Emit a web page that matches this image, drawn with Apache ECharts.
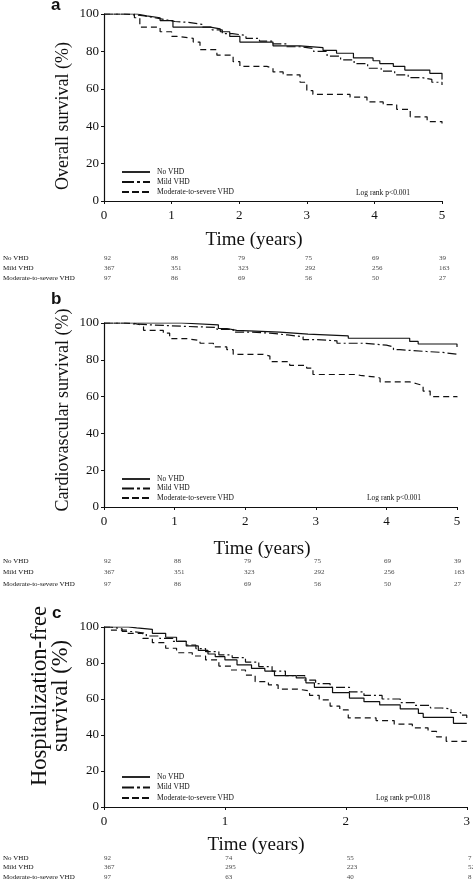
<!DOCTYPE html>
<html><head><meta charset="utf-8">
<script src="https://cdn.jsdelivr.net/npm/echarts@6/dist/echarts.min.js"></script>
<style>html,body{margin:0;padding:0;background:#fff}#c{width:473px;height:888px}</style>
</head><body><div id="c"></div>
<script>
// ---------- DATA ----------
const groups = ['No VHD', 'Mild VHD', 'Moderate-to-severe VHD'];

// Panel a: overall survival (time in years, survival %)
const a_noVHD = [[0,100],[0.49,99],[0.63,98],[0.83,96.5],[1.02,93],[1.57,92],[1.72,90.5],[1.86,88],[2.01,85],[2.5,83],[2.9,82],[3.24,80.5],[3.44,79],[3.69,76.5],[3.98,75],[4.08,73.5],[4.28,72],[4.45,70],[4.82,68.3],[5,65]];
const a_mildVHD = [[0,100],[0.3,99.5],[0.45,99],[0.6,98],[0.75,97],[0.9,96],[1.05,95.5],[1.25,94.5],[1.45,93],[1.6,91.5],[1.75,89.5],[1.9,88.5],[2.1,87],[2.3,85.5],[2.5,84],[2.7,82.5],[2.9,81.5],[3.1,80],[3.3,77.5],[3.5,75.5],[3.7,73.5],[3.9,71],[4.1,69.5],[4.3,67.5],[4.5,66],[4.7,65],[4.85,63.5],[5,62]];
const a_modVHD = [[0,100],[0.45,98],[0.53,93],[0.83,90.5],[1.0,88],[1.08,87],[1.32,85],[1.42,81],[1.67,78],[1.91,74.5],[2.01,72],[2.41,71],[2.5,69],[2.65,67.5],[2.9,63.5],[3.0,59],[3.09,57],[3.64,55.5],[3.89,53],[4.13,51.5],[4.33,49],[4.53,45],[4.78,42.5],[5,41.5]];

// Panel b: cardiovascular survival
const b_noVHD = [[0,100],[1.1,99],[1.62,97],[1.74,96],[1.88,95],[2.49,94],[2.89,93],[3.46,91.7],[4.33,90],[4.45,88.6],[5,87]];
const b_mildVHD = [[0,100],[0.3,99.5],[0.42,99],[0.65,98.2],[1.12,97.6],[1.6,96.5],[1.83,95],[2.1,94.5],[2.35,93.5],[2.6,92.5],[2.82,91],[3.0,90.3],[3.3,89],[3.67,88],[4.0,87],[4.1,85.5],[4.19,84.5],[4.57,84],[4.8,83],[5,82]];
const b_modVHD = [[0,100],[0.4,99],[0.51,98],[0.56,96],[0.84,94.5],[0.93,91.5],[1.17,90.5],[1.36,89],[1.55,87],[1.74,85.5],[1.83,83],[2.25,82],[2.35,79],[2.63,77],[2.87,75.5],[2.96,72],[3.58,71.5],[3.63,70.5],[3.88,70],[3.91,68],[4.33,67],[4.43,66],[4.52,63],[4.62,60],[5,59.6]];

// Panel c: hospitalization-free survival
const c_noVHD = [[0,100],[0.2,99.5],[0.27,98.7],[0.4,96.5],[0.51,94.3],[0.6,92],[0.68,89.5],[0.78,87],[0.86,85],[0.92,83.5],[1.0,81.7],[1.1,79],[1.22,77],[1.33,75.5],[1.41,73],[1.59,71.7],[1.67,69],[1.74,66.5],[1.89,63.5],[2.03,60.5],[2.15,58.5],[2.28,56.7],[2.45,54.5],[2.6,52],[2.64,49.8],[2.89,46.5],[3,46.5]];
const c_mildVHD = [[0,100],[0.05,99],[0.15,97.5],[0.24,96.5],[0.35,95],[0.46,93.7],[0.57,92],[0.68,90],[0.76,88],[0.84,86.3],[0.95,84.5],[1.06,83],[1.17,80.5],[1.28,78],[1.39,75.5],[1.5,73],[1.66,70.5],[1.75,68.5],[1.87,66.5],[2.03,64],[2.15,62],[2.3,60],[2.45,58],[2.57,56.5],[2.7,55],[2.79,54.5],[2.87,52.5],[2.95,51],[3,49.5]];
const c_modVHD = [[0,100],[0.05,98.3],[0.19,96.5],[0.32,93.7],[0.4,91.3],[0.51,88.2],[0.6,85.7],[0.73,83.9],[0.84,81.7],[0.95,78.3],[1.05,76.1],[1.17,73.3],[1.25,69.6],[1.36,67.8],[1.44,65.5],[1.6,64.5],[1.7,62],[1.78,59.5],[1.87,56],[1.95,54],[2.02,49.5],[2.25,48],[2.4,46],[2.55,44],[2.68,42],[2.75,39],[2.83,36.5],[3,36.5]];

// Numbers at risk
const riskTimes5 = [0, 1, 2, 3, 4, 5];
const riskTimes3 = [0, 1, 2, 3];
const riskA_no = [92, 88, 79, 75, 69, 39];
const riskA_mild = [367, 351, 323, 292, 256, 163];
const riskA_mod = [97, 86, 69, 56, 50, 27];
const riskB_no = [92, 88, 79, 75, 69, 39];
const riskB_mild = [367, 351, 323, 292, 256, 163];
const riskB_mod = [97, 86, 69, 56, 50, 27];
const riskC_no = [92, 74, 55, 7];
const riskC_mild = [367, 295, 223, 52];
const riskC_mod = [97, 63, 40, 8];

const panelLetters = ['a', 'b', 'c'];
const yTitles = ['Overall survival (%)', 'Cardiovascular survival (%)', ['Hospitalization-free', 'survival (%)']];
const xTitle = 'Time (years)';
const logRankTexts = ['Log rank p<0.001', 'Log rank p<0.001', 'Log rank p=0.018'];

// ---------- LAYOUT / STYLE ----------
const SERIF = 'Liberation Serif';
const INK = '#111';
const lineTypes = ['solid', [9, 3, 2, 3], [6, 4]];
const legendDash = [null, [12, 3, 3, 3], [7, 3]];

const panels = [
  { curves: [a_noVHD, a_mildVHD, a_modVHD], xmax: 5, riskT: riskTimes5, risk: [riskA_no, riskA_mild, riskA_mod],
    grid: { left: 104, top: 14, width: 338, height: 187 }, table: { top: 253, height: 30 },
    legendRows: [172, 182, 192], letter: [51, 11], yTitle: [63, 116], yFont: 18, xTitlePos: [254, 240], logRank: [356, 193] },
  { curves: [b_noVHD, b_mildVHD, b_modVHD], xmax: 5, riskT: riskTimes5, risk: [riskB_no, riskB_mild, riskB_mod],
    grid: { left: 104, top: 323, width: 353, height: 184 }, table: { top: 555, height: 35 },
    legendRows: [479, 488.5, 498], letter: [51, 305], yTitle: [63, 410], yFont: 18, xTitlePos: [262, 549], logRank: [367, 498] },
  { curves: [c_noVHD, c_mildVHD, c_modVHD], xmax: 3, riskT: riskTimes3, risk: [riskC_no, riskC_mild, riskC_mod],
    grid: { left: 104, top: 627, width: 367, height: 180 }, table: { top: 853, height: 29 },
    legendRows: [777, 787.5, 798], letter: [52, 619], yTitle: [50, 696], yFont: 22.5, xTitlePos: [256, 845], logRank: [376, 798] }
];

const option = { animation: false, backgroundColor: '#fff', grid: [], xAxis: [], yAxis: [], series: [], graphic: [] };

panels.forEach((p, i) => {
  const gPlot = i * 2, gTab = i * 2 + 1;
  option.grid.push(Object.assign({ containLabel: false }, p.grid));
  option.grid.push({ left: p.grid.left, width: p.grid.width, top: p.table.top, height: p.table.height, containLabel: false });

  option.xAxis.push({
    gridIndex: gPlot, type: 'value', min: 0, max: p.xmax, interval: 1,
    axisLine: { show: true, lineStyle: { color: INK, width: 1.2 } },
    axisTick: { show: true, length: 3, lineStyle: { color: INK } },
    splitLine: { show: false },
    axisLabel: { color: INK, fontFamily: SERIF, fontSize: 13, margin: 8 }
  });
  option.yAxis.push({
    gridIndex: gPlot, type: 'value', min: 0, max: 100, interval: 20,
    axisLine: { show: true, lineStyle: { color: INK, width: 1.2 } },
    axisTick: { show: true, length: 3, lineStyle: { color: INK } },
    splitLine: { show: false },
    axisLabel: { color: INK, fontFamily: SERIF, fontSize: 13, margin: 5 }
  });
  option.xAxis.push({ gridIndex: gTab, type: 'value', min: 0, max: p.xmax, show: false });
  option.yAxis.push({
    gridIndex: gTab, type: 'category', data: groups, inverse: true,
    axisLine: { show: false }, axisTick: { show: false }, splitLine: { show: false },
    axisLabel: { show: true, color: INK, fontFamily: SERIF, fontSize: 7, align: 'left', margin: p.grid.left }
  });

  p.curves.forEach((d, k) => {
    option.series.push({
      name: groups[k], type: 'line', xAxisIndex: gPlot, yAxisIndex: gPlot,
      data: d, step: 'end', symbol: 'none', silent: true,
      lineStyle: { color: INK, width: 1.2, type: lineTypes[k] }, itemStyle: { color: INK }
    });
  });

  p.risk.forEach((vals, k) => {
    option.series.push({
      name: 'risk' + i + '_' + k, type: 'scatter', xAxisIndex: gTab, yAxisIndex: gTab,
      data: vals.map((v, j) => [p.riskT[j], k, v]),
      symbolSize: 1, itemStyle: { color: 'rgba(0,0,0,0)' }, silent: true,
      label: { show: true, position: 'inside', align: 'left', offset: [-3, 0], color: INK, fontFamily: SERIF, fontSize: 7,
        formatter: prm => String(prm.value[2]) }
    });
  });

  // legend (drawn as graphic keys)
  groups.forEach((g, k) => {
    const y = p.legendRows[k];
    option.graphic.push({ type: 'line', silent: true, shape: { x1: 122, y1: y, x2: 150, y2: y },
      style: { stroke: INK, lineWidth: 1.8, lineDash: legendDash[k] } });
    option.graphic.push({ type: 'text', x: 157, y: y, silent: true,
      style: { text: g, fontFamily: SERIF, fontSize: 7.5, fill: INK, align: 'left', verticalAlign: 'middle' } });
  });

  option.graphic.push({ type: 'text', left: p.letter[0], top: p.letter[1] - 14, silent: true,
    style: { text: panelLetters[i], font: 'bold 17px "Liberation Sans"', fill: INK } });

  const yt = yTitles[i];
  if (Array.isArray(yt)) {
    yt.forEach((line, j) => {
      option.graphic.push({ type: 'text', x: p.yTitle[0] - 10 + j * 21, y: p.yTitle[1], rotation: Math.PI / 2, silent: true,
        style: { text: line, fontFamily: SERIF, fontSize: p.yFont, fill: INK, align: 'center', verticalAlign: 'middle' } });
    });
  } else {
    option.graphic.push({ type: 'text', x: p.yTitle[0], y: p.yTitle[1], rotation: Math.PI / 2, silent: true,
      style: { text: yt, fontFamily: SERIF, fontSize: p.yFont, fill: INK, align: 'center', verticalAlign: 'middle' } });
  }
  option.graphic.push({ type: 'text', x: p.xTitlePos[0], y: p.xTitlePos[1], silent: true,
    style: { text: xTitle, fontFamily: SERIF, fontSize: 19, fill: INK, align: 'center', verticalAlign: 'middle' } });
  option.graphic.push({ type: 'text', x: p.logRank[0], y: p.logRank[1], silent: true,
    style: { text: logRankTexts[i], fontFamily: SERIF, fontSize: 7.5, fill: INK, align: 'left', verticalAlign: 'middle' } });
});

const chart = echarts.init(document.getElementById('c'), null, { renderer: 'canvas' });
chart.setOption(option);
</script>
</body></html>
